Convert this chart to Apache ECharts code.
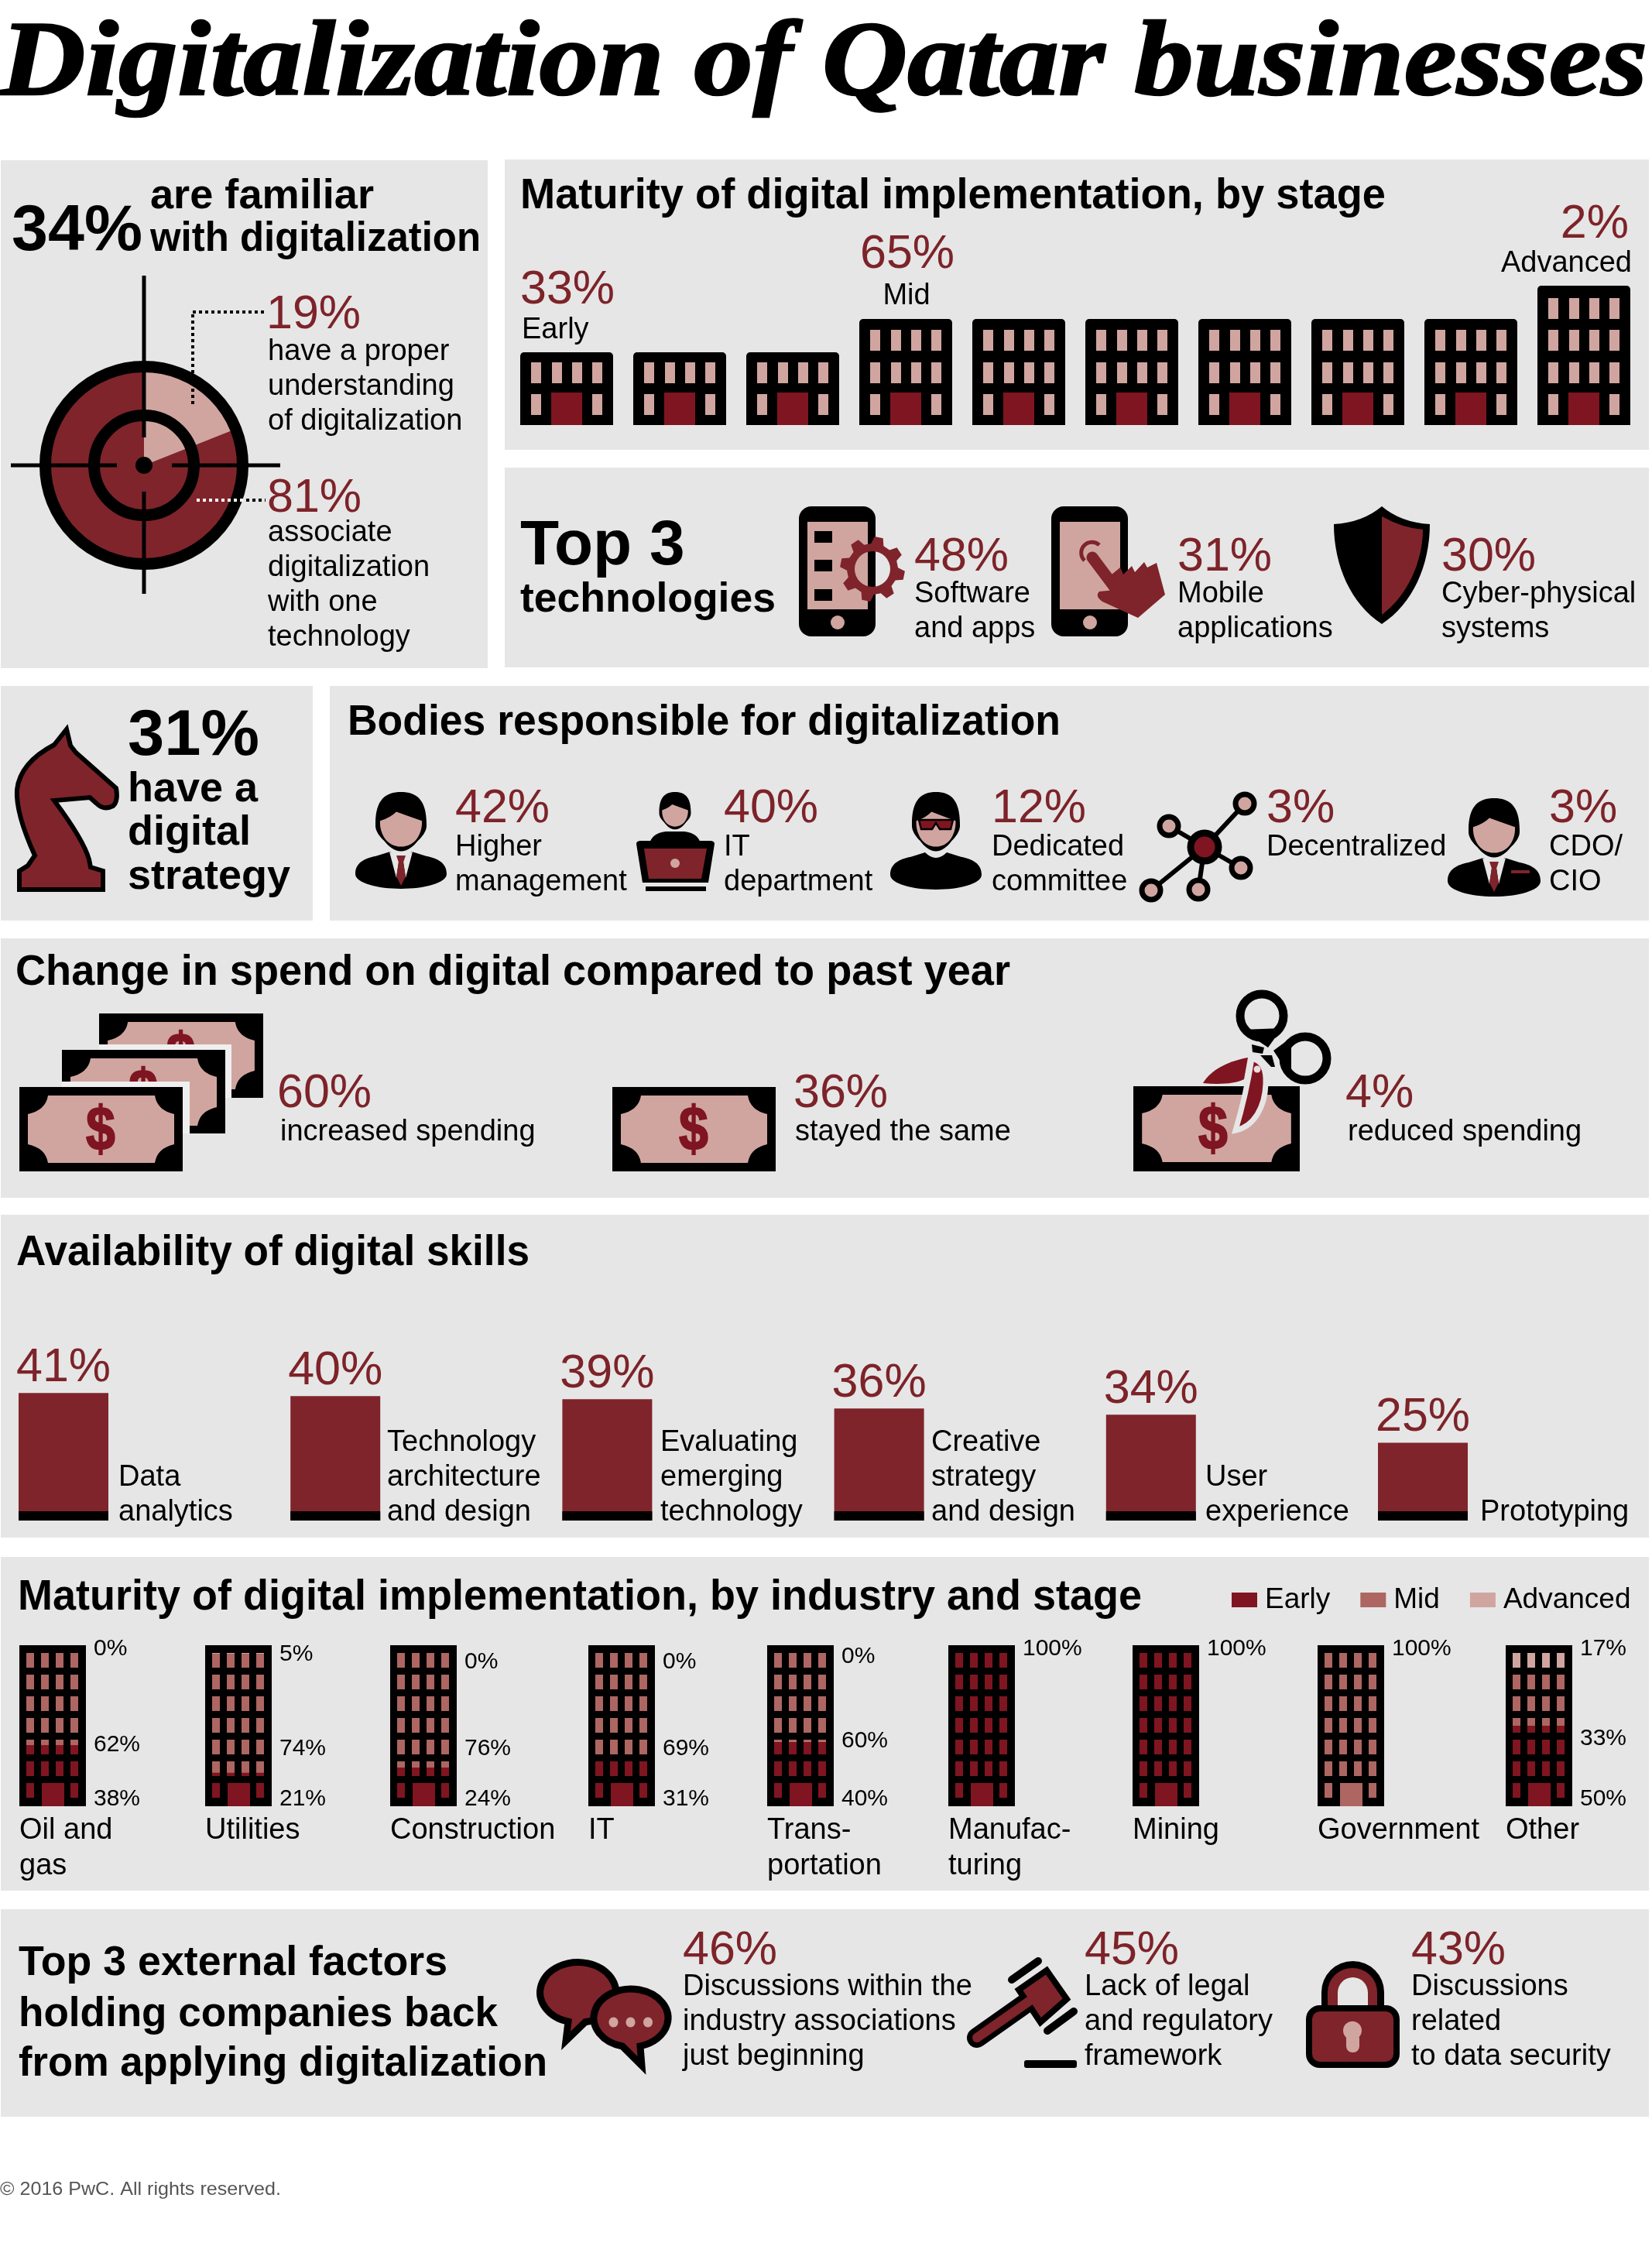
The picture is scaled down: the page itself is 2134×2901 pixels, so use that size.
<!DOCTYPE html>
<html>
<head>
<meta charset="utf-8">
<title>Digitalization of Qatar businesses</title>
<script src="https://cdn.jsdelivr.net/npm/echarts@6/dist/echarts.min.js"></script>
<style>
  html, body { margin: 0; padding: 0; background: #fff; }
  #chart { width: 2134px; height: 2901px; }
</style>
</head>
<body>
<div id="chart"></div>
<script>
// values
const familiarShare = 34;
const understandingNames = ['have a proper\nunderstanding\nof digitalization', 'associate\ndigitalization\nwith one\ntechnology'];
const understandingShares = [19, 81];

const stageNames = ['Early', 'Mid', 'Advanced'];
const stageShares = [33, 65, 2];
const stageBuildingCounts = [3, 6, 1];
const stageFloors = [2, 3, 4];

const techNames = ['Software\nand apps', 'Mobile\napplications', 'Cyber-physical\nsystems'];
const techShares = [48, 31, 30];

const strategyShare = 31;

const bodyNames = ['Higher\nmanagement', 'IT\ndepartment', 'Dedicated\ncommittee', 'Decentralized', 'CDO/\nCIO'];
const bodyShares = [42, 40, 12, 3, 3];

const spendNames = ['increased spending', 'stayed the same', 'reduced spending'];
const spendShares = [60, 36, 4];

const skillNames = ['Data\nanalytics', 'Technology\narchitecture\nand design', 'Evaluating\nemerging\ntechnology', 'Creative\nstrategy\nand design', 'User\nexperience', 'Prototyping'];
const skillShares = [41, 40, 39, 36, 34, 25];
const skillFoot = [3, 3, 3, 3, 3, 3];

const industries = ['Oil and\ngas', 'Utilities', 'Construction', 'IT', 'Trans-\nportation', 'Manufac-\nturing', 'Mining', 'Government', 'Other'];
const earlyShares = [38, 21, 24, 31, 40, 100, 100, 0, 50];
const midShares = [62, 74, 76, 69, 60, 0, 0, 100, 33];
const advancedShares = [0, 5, 0, 0, 0, 0, 0, 0, 17];

const factorNames = ['Discussions within the\nindustry associations\njust beginning', 'Lack of legal\nand regulatory\nframework', 'Discussions\nrelated\nto data security'];
const factorShares = [46, 45, 43];

// colours
const DARK = '#7f242b', DOOR = '#7f1520', MID = '#ad6662', PINK = '#d0a5a0', PANEL = '#e6e6e6', STAT = '#7d2329';
const SANS = '"Liberation Sans", Helvetica, Arial, sans-serif';
const SERIF = '"Liberation Serif", Georgia, serif';

const measure = document.createElement('canvas').getContext('2d');

// text helpers, y is the middle of the line
const texts = [];
function t(text, x, y, size, opts) {
  opts = opts || {};
  const weight = opts.weight || 'normal', style = opts.style || 'normal', family = opts.family || SANS;
  let scaleX = 1;
  if (opts.w) {
    measure.font = style + ' ' + weight + ' ' + size + 'px ' + family;
    scaleX = opts.w / measure.measureText(text).width;
  }
  const st = {
    text: text, fill: opts.color || '#000', fontSize: size, fontWeight: weight, fontStyle: style, fontFamily: family,
    align: opts.align || 'left', textAlign: opts.align || 'left', verticalAlign: 'middle', textVerticalAlign: 'middle'
  };
  if (opts.stroke) { st.stroke = opts.color || '#000'; st.lineWidth = opts.stroke; }
  texts.push({ type: 'text', x: x, y: y + 3.5, scaleX: scaleX, z: 20, silent: true, style: st });
}
function lines(str, x, y, size, lh) {
  str.split('\n').forEach(function (s, i) { t(s, x, y - 1.5 + i * (lh || 45), size || 38); });
}
function stat(v, x, y, align) { t(v + '%', x, y + 1.5, 61, { color: STAT, align: align }); }
function bold(s, x, y, w, size) { t(s, x, y, size || 56, { weight: 'bold', w: w }); }

// panels
const panels = [
  [1, 207, 629, 656], [652, 206, 1478, 375], [652, 604, 1478, 258],
  [1, 886, 403, 303], [426, 886, 1704, 303],
  [1, 1212, 2129, 335], [1, 1569, 2129, 417], [1, 2011, 2129, 431], [1, 2466, 2129, 268]
].map(function (p) {
  return { type: 'rect', shape: { x: p[0], y: p[1], width: p[2], height: p[3] }, style: { fill: PANEL }, silent: true };
});

// icon helpers
const icons = [];
function rect(x, y, w, h, fill, r) { icons.push({ type: 'rect', shape: { x: x, y: y, width: w, height: h, r: r || 0 }, style: { fill: fill } }); }
function circle(cx, cy, r, fill, stroke, lw) { icons.push({ type: 'circle', shape: { cx: cx, cy: cy, r: r }, style: { fill: fill || 'none', stroke: stroke || 'none', lineWidth: lw || 0 } }); }
function ellipse(cx, cy, rx, ry, fill, stroke, lw) { icons.push({ type: 'ellipse', shape: { cx: cx, cy: cy, rx: rx, ry: ry }, style: { fill: fill || 'none', stroke: stroke || 'none', lineWidth: lw || 0 } }); }
function path(d, fill, stroke, lw, cap) {
  icons.push({ type: 'path', shape: { pathData: d }, style: { fill: fill || 'none', stroke: stroke || 'none', lineWidth: lw || 0, lineCap: cap || 'butt', lineJoin: 'miter' } });
}
function line(x1, y1, x2, y2, color, lw, dash, cap) {
  icons.push({ type: 'line', shape: { x1: x1, y1: y1, x2: x2, y2: y2 }, style: { stroke: color, lineWidth: lw, lineDash: dash || null, lineCap: cap || 'butt' } });
}

function target() {
  const cx = 186, cy = 601;
  circle(cx, cy, 127.5, null, '#000', 15);
  circle(cx, cy, 64.5, null, '#000', 15);
  circle(cx, cy, 11, '#000');
  line(cx, 356, cx, 565, '#000', 5);
  line(cx, 635, cx, 767, '#000', 5);
  line(14, cy, 151, cy, '#000', 5);
  line(222, cy, 362, cy, '#000', 5);
  line(249, 522, 249, 403, '#000', 4, [4, 4]);
  line(249, 403, 341, 403, '#000', 4, [4, 4]);
  line(254, 646, 318, 646, '#fff', 4, [4, 4]);
  line(318, 646, 343, 646, '#000', 4, [4, 4]);
}

function phone(x) {
  rect(x, 654, 99, 168, '#000', 16);
  rect(x + 11, 674, 78, 113, PINK);
  circle(x + 50, 804, 9, PINK);
}
function gear(cx, cy) {
  let d = '';
  const n = 8, ro = 42, ri = 33;
  for (let i = 0; i < n; i++) {
    const a = (i / n) * Math.PI * 2 + 0.2, s = Math.PI * 2 / n;
    const pts = [[ri, a - s * 0.32], [ro, a - s * 0.17], [ro, a + s * 0.17], [ri, a + s * 0.32]];
    pts.forEach(function (p, j) {
      d += ((i === 0 && j === 0) ? 'M' : 'L') + (cx + p[0] * Math.cos(p[1])).toFixed(1) + ',' + (cy + p[0] * Math.sin(p[1])).toFixed(1);
    });
  }
  d += 'Z M' + (cx + 23) + ',' + cy + ' A23,23 0 1 0 ' + (cx - 23) + ',' + cy + ' A23,23 0 1 0 ' + (cx + 23) + ',' + cy + ' Z';
  path(d, DARK);
}
function techIcons() {
  phone(1032);
  rect(1052, 686, 23, 15, '#000');
  rect(1052, 723, 23, 15, '#000');
  rect(1052, 761, 23, 15, '#000');
  gear(1127, 735);
  phone(1358);
  path('M1401,724 A13,13 0 0 1 1420,704', null, DARK, 5);
  line(1411, 720, 1441, 760, DARK, 15, null, 'round');
  path('M1436,742 L1447,733 L1451,742 L1462,731 L1466,739 L1478,726 L1482,733 L1494,727 L1505,768 L1470,798 L1424,777 Q1414,770 1420,764 L1440,762 Z', DARK);
  path('M1785,654 Q1760,675 1723,677 C1723,730 1745,780 1785,806 C1825,780 1847,730 1847,677 Q1810,675 1785,654 Z', '#000');
  path('M1785,667 Q1812,682 1838,684 C1838,725 1818,770 1785,794 Z', DARK);
}
function knight() {
  path('M86,942 L91,963 L98,972 L150,1018 Q153,1035 146,1041 Q134,1047 125,1038 L116,1030 L70,1034 Q108,1085 115,1110 L117,1120 L133,1125 L133,1149 L25,1149 L25,1125 L36,1118 L45,1105 Q20,1050 22,1020 Q26,985 70,962 Z', DARK, '#000', 6);
}
function head(cx, y, sx, sy) {
  // hair and face of the people icons, drawn from a 66 by 78 box
  const X = function (v) { return cx + v * sx; }, Y = function (v) { return y + v * sy; };
  path('M' + X(-33) + ',' + Y(42) + ' C' + X(-33) + ',' + Y(10) + ' ' + X(-20) + ',' + Y(0) + ' ' + X(0) + ',' + Y(0) + ' C' + X(20) + ',' + Y(0) + ' ' + X(33) + ',' + Y(10) + ' ' + X(33) + ',' + Y(42) +
    ' C' + X(34) + ',' + Y(52) + ' ' + X(26) + ',' + Y(60) + ' ' + X(22) + ',' + Y(64) + ' C' + X(16) + ',' + Y(72) + ' ' + X(8) + ',' + Y(78) + ' ' + X(0) + ',' + Y(78) + ' C' + X(-8) + ',' + Y(78) + ' ' + X(-16) + ',' + Y(72) + ' ' + X(-22) + ',' + Y(64) +
    ' C' + X(-26) + ',' + Y(60) + ' ' + X(-34) + ',' + Y(52) + ' ' + X(-33) + ',' + Y(42) + ' Z', '#000');
  path('M' + X(-27) + ',' + Y(38) + ' Q' + X(-14) + ',' + Y(34) + ' ' + X(-6) + ',' + Y(26) + ' Q' + X(10) + ',' + Y(32) + ' ' + X(27) + ',' + Y(38) +
    ' C' + X(28) + ',' + Y(55) + ' ' + X(18) + ',' + Y(72) + ' ' + X(0) + ',' + Y(72) + ' C' + X(-18) + ',' + Y(72) + ' ' + X(-28) + ',' + Y(55) + ' ' + X(-27) + ',' + Y(38) + ' Z', PINK);
}
function body(cx, y, w, h) {
  // y is the neck line, w the half width
  path('M' + (cx - w) + ',' + (y + h * 0.6) + ' C' + (cx - w) + ',' + (y + h * 0.3) + ' ' + (cx - w * 0.8) + ',' + (y + h * 0.18) + ' ' + (cx - w * 0.55) + ',' + (y + h * 0.12) +
    ' L' + (cx - 14) + ',' + y + ' Q' + cx + ',' + (y + 14) + ' ' + (cx + 14) + ',' + y + ' L' + (cx + w * 0.55) + ',' + (y + h * 0.12) +
    ' C' + (cx + w * 0.8) + ',' + (y + h * 0.18) + ' ' + (cx + w) + ',' + (y + h * 0.3) + ' ' + (cx + w) + ',' + (y + h * 0.6) +
    ' C' + (cx + w) + ',' + (y + h * 0.85) + ' ' + (cx + w * 0.5) + ',' + (y + h) + ' ' + cx + ',' + (y + h) +
    ' C' + (cx - w * 0.5) + ',' + (y + h) + ' ' + (cx - w) + ',' + (y + h * 0.85) + ' ' + (cx - w) + ',' + (y + h * 0.6) + ' Z', '#000');
}
function suit(cx, y) {
  path('M' + (cx - 15) + ',' + y + ' L' + (cx - 2) + ',' + (y + 6) + ' L' + (cx - 6) + ',' + (y + 34) + ' Z', PANEL);
  path('M' + (cx + 15) + ',' + y + ' L' + (cx + 2) + ',' + (y + 6) + ' L' + (cx + 6) + ',' + (y + 34) + ' Z', PANEL);
  path('M' + (cx - 6) + ',' + (y + 5) + ' L' + (cx + 6) + ',' + (y + 5) + ' L' + (cx + 3) + ',' + (y + 14) + ' L' + (cx + 6) + ',' + (y + 32) + ' L' + cx + ',' + (y + 44) + ' L' + (cx - 6) + ',' + (y + 32) + ' L' + (cx - 3) + ',' + (y + 14) + ' Z', DARK);
}
function bodyIcons() {
  // higher management
  body(518, 1100, 59, 48);
  suit(518, 1100);
  head(518, 1023, 1, 0.98);
  // IT
  head(872, 1023, 0.62, 0.62);
  path('M839,1090 Q842,1076 860,1074 L884,1074 Q902,1076 905,1090 Z', '#000');
  path('M822,1090 Q822,1086 828,1086 L917,1086 Q923,1086 923,1090 L915,1140 L830,1140 Z', '#000');
  path('M832,1096 L913,1096 L906,1135 L838,1135 Z', DARK);
  circle(872, 1115, 6, PINK);
  rect(834, 1145, 78, 6, '#000');
  // committee
  body(1209, 1101, 59, 48);
  head(1209, 1023, 0.94, 0.98);
  path('M1187,1059 L1231,1059 L1228,1071 L1214,1071 L1209,1063 L1204,1071 L1190,1071 Z', DOOR, '#000', 2.5);
  // decentralized
  [[1608, 1038], [1510, 1067], [1603, 1121], [1548, 1149], [1487, 1150]].forEach(function (n) {
    line(1556, 1094, n[0], n[1], '#000', 6);
  });
  [[1608, 1038], [1510, 1067], [1603, 1121], [1548, 1149], [1487, 1150]].forEach(function (n) {
    circle(n[0], n[1], 12, PINK, '#000', 7);
  });
  circle(1556, 1094, 18, DOOR, '#000', 9);
  // CDO
  body(1930, 1108, 60, 50);
  suit(1930, 1108);
  rect(1952, 1124, 24, 4, DARK);
  head(1930, 1031, 1, 0.98);
}
function note(x, y, w, h, dollar) {
  const k = w / 211, X = function (v) { return (x + v * k).toFixed(1); }, Y = function (v) { return y + v; };
  rect(x, y, w, h, '#000');
  path('M' + X(37) + ',' + Y(11) + ' L' + X(175) + ',' + Y(11) + ' Q' + X(178) + ',' + Y(30) + ' ' + X(200) + ',' + Y(35) + ' L' + X(200) + ',' + Y(74) + ' Q' + X(178) + ',' + Y(79) + ' ' + X(175) + ',' + Y(98) +
    ' L' + X(37) + ',' + Y(98) + ' Q' + X(34) + ',' + Y(79) + ' ' + X(11) + ',' + Y(74) + ' L' + X(11) + ',' + Y(35) + ' Q' + X(34) + ',' + Y(30) + ' ' + X(37) + ',' + Y(11) + ' Z', PINK);
  icons.push({
    type: 'text', x: x + dollar * k, y: y + 59, scaleX: 0.85,
    style: { text: '$', fill: DOOR, stroke: DOOR, lineWidth: 2, fontSize: 80, fontWeight: 'bold', fontFamily: SANS, align: 'center', textAlign: 'center', verticalAlign: 'middle', textVerticalAlign: 'middle' }
  });
}
function spendIcons() {
  note(128, 1309, 212, 109, 105);
  rect(128, 1349, 171, 69, '#efefef');
  note(80, 1356, 211, 108, 105);
  rect(80, 1397, 165, 67, '#efefef');
  note(25, 1404, 211, 109, 105);
  note(791, 1404, 211, 109, 105);
  note(1464, 1403, 215, 110, 101);
  // scissors
  circle(1630, 1312, 28, null, '#000', 11);
  path('M1604,1330 L1638,1353 L1656,1328 Z', '#000');
  circle(1686, 1367, 28, null, '#000', 11);
  path('M1645,1357 L1668,1340 L1668,1392 Z', '#000');
  path('M1617,1349 L1633,1353 L1631,1361 L1618,1359 Z', '#000');
  path('M1628,1363 L1643,1363 L1647,1378 L1642,1378 Z', '#000');
  path('M1612,1366 C1590,1370 1565,1380 1554,1399 C1575,1401 1595,1400 1607,1394 Z', DOOR);
  path('M1617,1367 C1630,1370 1636,1380 1635,1400 C1634,1430 1620,1455 1596,1460 C1605,1430 1612,1400 1617,1367 Z', DOOR, PANEL, 7);
  circle(1624, 1381, 4.5, '#f0dcdc');
}
function factorIcons() {
  // speech bubbles
  path('M734,2611.2 A49,39 0 1 1 756,2611.8 L731,2636 Z', DARK, '#000', 9);
  path('M804,2643 A48,37.5 0 1 1 827,2642.8 L829,2668 Z', DARK, '#000', 9);
  [792.5, 814.5, 837].forEach(function (x) { ellipse(x, 2612, 6, 6.5, PINK); });
  // gavel
  line(1262, 2632, 1330, 2584, '#000', 26, null, 'round');
  path('M1352,2545 L1378,2582 L1344,2612 L1316,2570 Z', DARK, '#000', 8);
  line(1262, 2632, 1332, 2583, DARK, 12, null, 'round');
  line(1307, 2557, 1341, 2533, '#000', 10, null, 'round');
  line(1353, 2623, 1387, 2598, '#000', 10, null, 'round');
  rect(1323, 2661, 68, 10, '#000', 3);
  // lock
  path('M1707,2600 L1707,2573 A40.5,40 0 0 1 1788,2573 L1788,2600 Z', '#000');
  path('M1715,2600 L1715,2573 A32,31 0 0 1 1779,2573 L1779,2600 Z', DARK);
  path('M1728,2594 L1728,2574 A19.5,20 0 0 1 1767,2574 L1767,2594 Z', PANEL);
  icons.push({ type: 'rect', shape: { x: 1691, y: 2594, width: 113, height: 73, r: 14 }, style: { fill: DARK, stroke: '#000', lineWidth: 8 } });
  circle(1747, 2622.7, 12, PINK);
  rect(1739, 2625, 17, 26, PINK, 8);
}

target();
techIcons();
knight();
bodyIcons();
spendIcons();
factorIcons();

// all the text
t('Digitalization of Qatar businesses', 0, 83, 138, { family: SERIF, weight: 'bold', style: 'italic', w: 2128, stroke: 2.5 });

t(familiarShare + '%', 15, 296, 84, { weight: 'bold', w: 169 });
bold('are familiar', 194, 251, 289, 54);
bold('with digitalization', 194, 306, 427, 54);
stat(understandingShares[0], 344, 402);
lines(understandingNames[0], 346, 453);
stat(understandingShares[1], 345, 639);
lines(understandingNames[1], 346, 687);

bold('Maturity of digital implementation, by stage', 672, 250, 1118);
stat(stageShares[0], 672, 370);
t(stageNames[0], 674, 423.5, 38);
stat(stageShares[1], 1111, 324);
t(stageNames[1], 1171, 379.5, 38, { align: 'center' });
stat(stageShares[2], 2104, 285, 'right');
t(stageNames[2], 2108, 337.5, 38, { align: 'right' });

t('Top 3', 672, 703, 82, { weight: 'bold' });
bold('technologies', 672, 772, 330, 54);
[1181, 1521, 1862].forEach(function (x, i) {
  stat(techShares[i], x, 715);
  lines(techNames[i], x, 766);
});

t(strategyShare + '%', 165, 948, 84, { weight: 'bold', w: 170 });
['have a', 'digital', 'strategy'].forEach(function (s, i) { t(s, 165, [1017, 1073, 1130][i], 54, { weight: 'bold' }); });

bold('Bodies responsible for digitalization', 449, 930, 921);
[588, 935, 1281, 1636, 2001].forEach(function (x, i) {
  stat(bodyShares[i], x, 1040);
  lines(bodyNames[i], x, 1093);
});

bold('Change in spend on digital compared to past year', 20, 1253, 1285);
[[358, 362], [1025, 1027], [1738, 1741]].forEach(function (p, i) {
  stat(spendShares[i], p[0], 1408);
  t(spendNames[i], p[1], 1459.5, 38);
});

bold('Availability of digital skills', 21, 1615, 663);
[153, 500, 853, 1203, 1557, 1912].forEach(function (x, i) {
  const parts = skillNames[i].split('\n');
  lines(skillNames[i], x, 1952 - (parts.length - 1) * 45);
});

bold('Maturity of digital implementation, by industry and stage', 23, 2060, 1452);

const industryLeft = [25, 265, 504, 760, 991, 1225, 1463, 1702, 1945];
const labelY = {
  early: [2320, 2320, 2320, 2320, 2320, 2126, 2126, 0, 2320],
  mid: [2250, 2255, 2255, 2255, 2245, 0, 0, 2126, 2242],
  advanced: [2126, 2133, 2143, 2143, 2136, 0, 0, 0, 2126]
};
industries.forEach(function (name, i) {
  const x = industryLeft[i] + 96;
  if (labelY.early[i]) t(earlyShares[i] + '%', x, labelY.early[i], 30);
  if (labelY.mid[i]) t(midShares[i] + '%', x, labelY.mid[i], 30);
  if (labelY.advanced[i]) t(advancedShares[i] + '%', x, labelY.advanced[i], 30);
  lines(name, industryLeft[i], 2363, 38, 46);
});

bold('Top 3 external factors', 24, 2533, 554, 54);
bold('holding companies back', 24, 2599, 619, 54);
bold('from applying digitalization', 24, 2663, 683, 54);
[882, 1401, 1823].forEach(function (x, i) {
  stat(factorShares[i], x, 2515);
  lines(factorNames[i], x, 2565);
});
t('\u00a9 2016 PwC. All rights reserved.', 0, 2825, 24, { color: '#555', w: 363 });

// charts
const grids = [], xAxes = [], yAxes = [], series = [];
function addGrid(box, cats, max, tickAligned) {
  grids.push(Object.assign({ containLabel: false }, box));
  const idx = grids.length - 1;
  xAxes.push({ type: 'category', gridIndex: idx, data: cats, show: false, boundaryGap: !tickAligned });
  yAxes.push({ type: 'value', gridIndex: idx, min: 0, max: max, show: false });
  return idx;
}

// skills bars, first and last bar centred on the ends of the axis
const skillGrid = addGrid({ left: 82, top: 1763, width: 1756, height: 201 }, skillNames, 50, true);
series.push({
  type: 'bar', xAxisIndex: skillGrid, yAxisIndex: skillGrid, data: skillShares, barWidth: 116, barGap: '-100%', clip: false,
  itemStyle: { color: DARK }, silent: true,
  label: { show: true, position: 'top', distance: 2, formatter: '{c}%', fontSize: 61, color: STAT, fontFamily: SANS }
});
series.push({
  type: 'bar', xAxisIndex: skillGrid, yAxisIndex: skillGrid, data: skillFoot, barWidth: 116, barGap: '-100%', clip: false,
  itemStyle: { color: '#000' }, silent: true
});

// buildings by stage
const stageBuildings = [];
stageBuildingCounts.forEach(function (count, s) {
  for (let i = 0; i < count; i++) stageBuildings.push(stageFloors[s]);
});
const stageGrid = addGrid({ left: 659, top: 334, width: 1460, height: 215 }, stageBuildings.map(function (f, i) { return 'b' + i; }), 5);
series.push({
  type: 'custom', xAxisIndex: stageGrid, yAxisIndex: stageGrid, silent: true,
  data: stageBuildings.map(function (f, i) { return [i, f]; }),
  renderItem: function (params, api) {
    const floors = api.value(1), foot = api.coord([api.value(0), 0]), top = api.coord([api.value(0), floors]);
    const L = Math.round(foot[0] - 60), B = Math.round(foot[1]), H = B - Math.round(top[1]) + 8;
    const kids = [{ type: 'rect', shape: { x: L, y: B - H, width: 120, height: H, r: [5, 5, 0, 0] }, style: { fill: '#000' } }];
    for (let r = 0; r < floors; r++) {
      [14, 41, 67, 93].forEach(function (cx, c) {
        if (r === 0 && (c === 1 || c === 2)) return;
        kids.push({ type: 'rect', shape: { x: L + cx, y: Math.round(B - 40 - 41.5 * r), width: 13, height: 27 }, style: { fill: PINK } });
      });
    }
    kids.push({ type: 'rect', shape: { x: L + 40, y: B - 42, width: 40, height: 42 }, style: { fill: DOOR } });
    return { type: 'group', children: kids };
  }
});

// black frame laid over the stacked bars, so the stack shows through the windows
function framePath(L, T) {
  const W = 86;
  const box = function (x, y, w, h) { return 'M' + (L + x) + ',' + (T + y) + 'h' + w + 'v' + h + 'h' + (-w) + 'Z'; };
  let d = box(0, 0, W, 10);
  for (let r = 0; r < 6; r++) d += box(0, 29 + 28 * r, W, 9);
  [[0, 9], [19, 9], [38, 9], [57, 9], [76, 10]].forEach(function (c) { d += box(c[0], 10, c[1], 168); });
  d += box(0, 178, 9, 30) + box(19, 178, 10, 30) + box(58, 178, 8, 30) + box(76, 178, 10, 30);
  d += box(9, 197, 10, 11) + box(66, 197, 10, 11);
  return d;
}
industries.forEach(function (name, i) {
  const g = addGrid({ left: industryLeft[i], top: 2125, width: 86, height: 208 }, [name], 100);
  [['Early', earlyShares, DOOR], ['Mid', midShares, MID], ['Advanced', advancedShares, PINK]].forEach(function (s) {
    series.push({
      name: s[0], type: 'bar', stack: 'g' + i, xAxisIndex: g, yAxisIndex: g, data: [s[1][i]], barWidth: '100%',
      itemStyle: { color: s[2] }, silent: true
    });
  });
  series.push({
    type: 'custom', xAxisIndex: g, yAxisIndex: g, silent: true, z: 3, data: [[0, 100]],
    renderItem: function (params, api) {
      const top = api.coord([0, 100]);
      return { type: 'path', shape: { pathData: framePath(Math.round(top[0] - 43), Math.round(top[1])) }, style: { fill: '#000' } };
    }
  });
});

// target pie
series.push({
  type: 'pie', center: [186, 601], radius: [0, 122], startAngle: 90, silent: true, label: { show: false },
  data: understandingShares.map(function (v, i) { return { value: v, name: understandingNames[i], itemStyle: { color: i ? DARK : PINK } }; })
});

// icons above everything
series.push({
  type: 'custom', coordinateSystem: 'none', silent: true, z: 10, data: [0],
  renderItem: function () { return { type: 'group', children: icons }; }
});

const chart = echarts.init(document.getElementById('chart'), null, { renderer: 'canvas' });
chart.setOption({
  animation: false,
  backgroundColor: '#fff',
  textStyle: { fontFamily: SANS },
  tooltip: { show: false },
  grid: grids,
  xAxis: xAxes,
  yAxis: yAxes,
  legend: {
    data: stageNames, left: 1591, top: 2048, padding: 0, icon: 'rect', itemWidth: 33, itemHeight: 19, itemGap: 39, selectedMode: false,
    textStyle: { fontSize: 37, color: '#000', fontFamily: SANS, padding: [0, 0, 0, 5] }
  },
  series: series,
  graphic: { elements: panels.concat(texts) }
});
</script>
</body>
</html>
